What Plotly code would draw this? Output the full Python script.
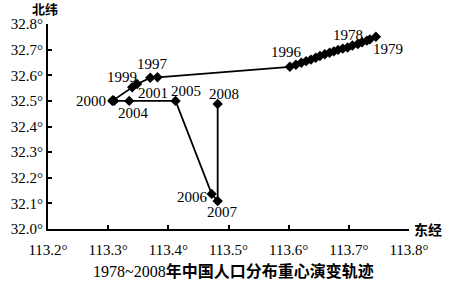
import plotly.graph_objects as go

# ---- data ----
years = list(range(1978, 2009))
lon = [113.735, 113.745, 113.730, 113.722, 113.715, 113.706, 113.698, 113.690,
       113.682, 113.675, 113.668, 113.660, 113.652, 113.645, 113.637, 113.629,
       113.621, 113.612, 113.602,
       113.382, 113.370, 113.348, 113.307, 113.340, 113.308, 113.310,
       113.335, 113.412, 113.472, 113.482, 113.482]
lat = [32.740, 32.750, 32.735, 32.729, 32.722, 32.716, 32.708, 32.704,
       32.699, 32.693, 32.688, 32.682, 32.675, 32.668, 32.661, 32.655,
       32.649, 32.641, 32.633,
       32.592, 32.590, 32.566, 32.500, 32.553, 32.503, 32.500,
       32.500, 32.500, 32.137, 32.109, 32.488]
labeled_years = [1978, 1979, 1996, 1997, 1999, 2000, 2001, 2004, 2005, 2006, 2007, 2008]
x_ticks = [113.2, 113.3, 113.4, 113.5, 113.6, 113.7, 113.8]
y_ticks = [32.0, 32.1, 32.2, 32.3, 32.4, 32.5, 32.6, 32.7, 32.8]
x_tick_text = ["113.2°", "113.3°", "113.4°", "113.5°", "113.6°", "113.7°", "113.8°"]
y_tick_text = ["32.0°", "32.1°", "32.2°", "32.3°", "32.4°", "32.5°", "32.6°", "32.7°", "32.8°"]
title_years = "1978~2008"
title_cjk = "年中国人口分布重心演变轨迹"
y_axis_name = "北纬"
x_axis_name = "东经"

# ---- label offsets (pixels) ----
label_shift = {
    1978: (-22, 4), 1979: (12, -12), 1996: (-3, 15), 1997: (-5, 13),
    1999: (-15, 7), 2000: (-21, 0), 2001: (21, -6), 2004: (4, -12),
    2005: (10, 10), 2006: (-19, -3), 2007: (5, -11), 2008: (6, 10),
}

SERIF = "Times New Roman, Liberation Serif, serif"
fig = go.Figure()
fig.add_trace(go.Scatter(
    x=lon, y=lat, mode="lines+markers",
    line=dict(color="black", width=1.8),
    marker=dict(symbol="diamond", size=8, color="black"),
    hoverinfo="skip", showlegend=False, cliponaxis=False,
))

for yr in labeled_years:
    i = years.index(yr)
    dx, dy = label_shift[yr]
    fig.add_annotation(x=lon[i], y=lat[i], text=str(yr), showarrow=False,
                       xshift=dx, yshift=dy, xanchor="center", yanchor="middle",
                       font=dict(family=SERIF, size=15, color="black"))

fig.add_annotation(xref="paper", yref="paper", x=-0.008, y=1.075, text="<b>" + y_axis_name + "</b>",
                   showarrow=False, xanchor="center", yanchor="middle",
                   font=dict(family="Noto Sans CJK SC", size=13, color="black"))
fig.add_annotation(xref="paper", yref="paper", x=1.053, y=0.0, text="<b>" + x_axis_name + "</b>",
                   showarrow=False, xanchor="center", yanchor="middle",
                   font=dict(family="Noto Sans CJK SC", size=14, color="black"))
fig.add_annotation(xref="paper", yref="paper", x=0.515, y=-0.205,
                   text=title_years + "<b>" + title_cjk + "</b>",
                   showarrow=False, xanchor="center", yanchor="middle",
                   font=dict(family=SERIF + ", Noto Sans CJK SC", size=16, color="black"))

axis_common = dict(showgrid=False, zeroline=False, showline=True, linecolor="black",
                   linewidth=2, ticks="inside", ticklen=4, tickwidth=1.5, tickcolor="black",
                   tickfont=dict(family=SERIF, size=15, color="black"))
fig.update_xaxes(range=[x_ticks[0], x_ticks[-1]], tickvals=x_ticks, ticktext=x_tick_text,
                 ticklabelstandoff=6, **axis_common)
fig.update_yaxes(range=[y_ticks[0], y_ticks[-1]], tickvals=y_ticks, ticktext=y_tick_text, **axis_common)

fig.update_layout(width=450, height=287, margin=dict(l=48, r=41, t=24, b=58),
                  font=dict(family=SERIF, color="black"),
                  paper_bgcolor="white", plot_bgcolor="white")
fig.write_html("out.html")
